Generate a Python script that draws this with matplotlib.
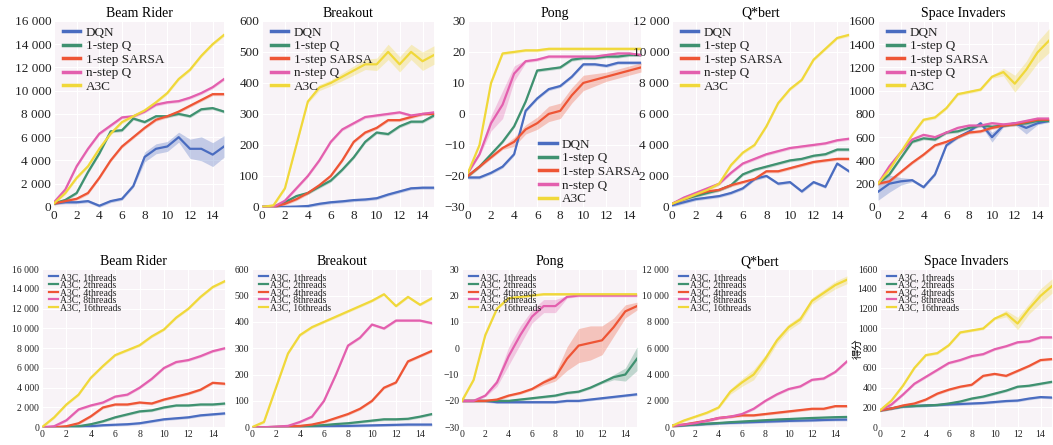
import numpy as np
import matplotlib.pyplot as plt
from matplotlib.ticker import FuncFormatter

plt.rcParams['font.family'] = ['Liberation Serif', 'Noto Sans CJK SC', 'DejaVu Sans']

steps = np.arange(16)

games = ["Beam Rider", "Breakout", "Pong", "Q*bert", "Space Invaders"]
labels_top = ["DQN", "1-step Q", "1-step SARSA", "n-step Q", "A3C"]
labels_bot = ["A3C, 1threads", "A3C, 2threads", "A3C, 4threads", "A3C, 8threads", "A3C, 16threads"]
colors = ["#4a6cc0", "#3f9170", "#ee5535", "#e35fae", "#f0d83a"]
ylims = [(0, 16000), (0, 600), (-30, 30), (0, 12000), (0, 1600)]
yticks = [np.arange(0, 16001, 2000), np.arange(0, 601, 100), np.arange(-30, 31, 10),
          np.arange(0, 12001, 2000), np.arange(0, 1601, 200)]

# top row: DQN, 1-step Q, 1-step SARSA, n-step Q, A3C
beam_top = [
    [300, 400, 400, 500, 100, 500, 700, 1800, 4300, 5000, 5200, 6000, 5000, 5000, 4500, 5200],
    [300, 600, 1200, 3000, 4600, 6500, 6600, 7600, 7300, 7800, 7800, 8000, 7800, 8400, 8500, 8200],
    [300, 500, 700, 1200, 2500, 4000, 5200, 6000, 6800, 7500, 7800, 8200, 8700, 9200, 9700, 9700],
    [400, 1500, 3500, 5000, 6300, 7000, 7700, 7800, 8200, 8800, 9000, 9100, 9400, 9800, 10300, 11000],
    [300, 1200, 2500, 3500, 5000, 6300, 7300, 7800, 8300, 9000, 9800, 11000, 11800, 13000, 14000, 14800],
]
breakout_top = [
    [0, 0, 0, 1, 3, 10, 15, 18, 22, 24, 28, 40, 50, 60, 62, 62],
    [0, 0, 15, 35, 45, 65, 85, 120, 160, 210, 240, 235, 260, 275, 275, 295],
    [0, 0, 10, 25, 45, 70, 100, 150, 210, 240, 255, 280, 280, 290, 300, 300],
    [0, 0, 20, 60, 100, 150, 210, 250, 270, 290, 295, 300, 305, 295, 300, 305],
    [0, 5, 60, 200, 340, 385, 400, 420, 440, 460, 460, 500, 460, 500, 470, 490],
]
pong_top = [
    [-20.5, -20.5, -19, -17, -13, 1, 5, 8, 9, 12, 16, 16, 15.5, 16.5, 16.5, 16.5],
    [-20, -17, -13, -9, -4, 4, 14, 14.5, 15, 17.5, 18, 18, 18.5, 18.5, 19, 19],
    [-20, -17, -14, -11, -9, -5, -3, 0, 1, 6, 10, 11, 12, 13, 14, 15],
    [-19, -13, -3, 3, 13, 17, 17.5, 18.5, 18.5, 18.5, 18.5, 18.5, 19, 19.5, 19.5, 19],
    [-19, -10, 10, 19.5, 20, 20.5, 20.5, 21, 21, 21, 21, 21, 21, 21, 21, 21],
]
qbert_top = [
    [100, 300, 500, 600, 700, 900, 1200, 1800, 2000, 1500, 1600, 1000, 1600, 1300, 2800, 2300],
    [200, 500, 700, 900, 1100, 1400, 2100, 2400, 2600, 2800, 3000, 3100, 3300, 3400, 3700, 3700],
    [200, 500, 800, 1000, 1100, 1400, 1600, 1800, 2300, 2300, 2500, 2700, 2900, 3000, 3100, 3100],
    [200, 600, 900, 1200, 1500, 2200, 2800, 3100, 3400, 3600, 3800, 3900, 4000, 4100, 4300, 4400],
    [200, 500, 800, 1100, 1500, 2700, 3500, 4000, 5200, 6700, 7600, 8200, 9500, 10200, 10900, 11100],
]
space_top = [
    [130, 200, 220, 230, 170, 280, 530, 600, 650, 720, 600, 700, 720, 680, 720, 740],
    [200, 280, 420, 560, 590, 580, 640, 650, 680, 700, 690, 700, 710, 720, 740, 740],
    [200, 220, 300, 380, 450, 530, 560, 600, 640, 650, 680, 700, 710, 730, 750, 750],
    [200, 350, 470, 580, 620, 600, 640, 680, 700, 700, 720, 710, 720, 740, 760, 760],
    [200, 320, 470, 620, 750, 770, 850, 970, 990, 1010, 1120, 1160, 1060, 1180, 1330, 1430],
]

# bottom row: A3C with 1, 2, 4, 8, 16 threads
beam_bot = [
    [0, 0, 0, 50, 100, 200, 250, 300, 400, 600, 800, 900, 1000, 1200, 1300, 1400],
    [0, 0, 0, 100, 300, 600, 1000, 1300, 1600, 1700, 2000, 2200, 2200, 2300, 2300, 2400],
    [0, 0, 100, 400, 1100, 2000, 2300, 2300, 2500, 2400, 2800, 3100, 3400, 3800, 4500, 4400],
    [0, 100, 700, 1800, 2200, 2500, 3100, 3300, 4000, 4900, 6000, 6600, 6800, 7200, 7700, 8000],
    [0, 1000, 2300, 3300, 5000, 6200, 7300, 7800, 8300, 9200, 9900, 11100, 12000, 13200, 14200, 14800],
]
breakout_bot = [
    [0, 0, 0, 0, 1, 2, 3, 4, 5, 6, 7, 8, 9, 10, 10, 10],
    [0, 0, 1, 2, 3, 5, 8, 12, 15, 20, 25, 30, 30, 32, 40, 50],
    [0, 0, 1, 2, 5, 10, 20, 35, 50, 70, 100, 150, 170, 250, 270, 290],
    [0, 0, 2, 5, 20, 40, 100, 200, 310, 340, 390, 375, 405, 405, 405, 395],
    [0, 20, 150, 280, 350, 380, 400, 420, 440, 460, 480, 505, 460, 495, 465, 490],
]
pong_bot = [
    [-20, -20, -20, -20.5, -20.5, -20.5, -20.5, -20.5, -20.5, -20, -20, -19.5, -19, -18.5, -18, -17.5],
    [-20, -20, -20, -20, -20, -19.5, -19, -18.5, -18, -17, -16.5, -15, -13, -11, -10, -4],
    [-20, -20, -20, -19.5, -18, -17, -15.5, -13, -11, -4, 1, 2, 3, 8, 14, 16],
    [-20, -20, -18, -13, -3, 5, 12, 16, 16, 19.5, 20, 20, 20, 20, 20, 20],
    [-20, -12, 5, 15, 19, 19.5, 20, 20.5, 20.5, 20.5, 20.5, 20.5, 20.5, 20.5, 20.5, 20.5],
]
qbert_bot = [
    [100, 150, 200, 250, 300, 330, 360, 390, 420, 450, 480, 500, 520, 550, 570, 580],
    [100, 150, 200, 260, 320, 380, 430, 480, 530, 580, 620, 660, 700, 730, 760, 780],
    [100, 200, 350, 500, 700, 800, 900, 900, 1000, 1100, 1200, 1300, 1400, 1400, 1600, 1600],
    [100, 200, 300, 500, 700, 800, 1000, 1400, 2000, 2500, 2900, 3100, 3600, 3700, 4200, 5000],
    [100, 500, 800, 1100, 1500, 2700, 3400, 4000, 5200, 6600, 7600, 8200, 9600, 10200, 10800, 11200],
]
space_bot = [
    [170, 190, 210, 215, 220, 225, 230, 235, 240, 245, 255, 265, 270, 290, 305, 300],
    [170, 190, 210, 215, 220, 225, 240, 260, 290, 310, 340, 370, 410, 420, 440, 460],
    [170, 190, 220, 240, 280, 340, 380, 410, 430, 520, 540, 520, 570, 620, 680, 690],
    [170, 230, 330, 440, 510, 580, 650, 680, 720, 740, 790, 820, 860, 870, 910, 910],
    [170, 270, 420, 600, 730, 750, 830, 960, 980, 1000, 1100, 1150, 1050, 1200, 1330, 1430],
]

top_data = [beam_top, breakout_top, pong_top, qbert_top, space_top]
bot_data = [beam_bot, breakout_bot, pong_bot, qbert_bot, space_bot]

# wider shaded bands (half width)
bands = {
    (0, 0, 0): [0, 0, 0, 0, 0, 0, 0, 0, 300, 300, 300, 300, 700, 900, 900, 800],
    (0, 1, 4): [0, 0, 0, 0, 0, 5, 5, 8, 10, 12, 15, 20, 20, 20, 25, 25],
    (0, 4, 4): [0, 0, 0, 0, 0, 0, 0, 0, 0, 0, 0, 20, 60, 60, 80, 90],
    (0, 4, 0): [60, 60, 20, 0, 0, 0, 0, 0, 0, 0, 30, 0, 0, 40, 0, 0],
    (0, 2, 2): [0, 0, 0, 0, 1, 1, 1.5, 2, 2, 2, 2, 1.5, 1, 1, 1, 1],
    (0, 2, 3): [0, 0, 2, 4, 2, 0, 0, 0, 0, 0, 0, 0, 0, 0, 0, 0],
    (1, 2, 2): [0, 0, 0, 0, 0, 0, 0, 0.5, 1, 4, 6, 6, 5, 3, 2, 1],
    (1, 2, 3): [0, 0, 0, 1, 3, 3, 2, 2, 2, 0, 0, 0, 0, 0, 0, 0],
    (1, 2, 1): [0, 0, 0, 0, 0, 0, 0, 0, 0, 0, 0, 0, 0, 0.5, 2, 4],
    (1, 4, 4): [0, 0, 0, 0, 0, 0, 0, 0, 0, 0, 0, 20, 50, 40, 60, 60],
    (1, 3, 4): [0, 0, 0, 0, 0, 100, 200, 300, 200, 150, 150, 150, 150, 150, 200, 200],
}
layout = {
    0: {"bottom": 0.535, "height": 0.418, "left": [54, 262, 468, 672, 878],
        "right": [224, 434, 641, 849, 1049]},
    1: {"bottom": 0.040, "height": 0.355, "left": [42, 252, 462, 672, 880],
        "right": [225, 432, 637, 847, 1052]},
}


def thousands(v, p):
    v = int(round(v))
    return f"{v:,}".replace(",", " ")


fig = plt.figure(figsize=(10.53, 4.45), dpi=100)
W = 1053.0

for row in range(2):
    lay = layout[row]
    rows_data = top_data if row == 0 else bot_data
    labels = labels_top if row == 0 else labels_bot
    for col in range(5):
        left = lay["left"][col] / W
        w = (lay["right"][col] - lay["left"][col]) / W
        ax = fig.add_axes([left, lay["bottom"], w, lay["height"]])
        ax.set_facecolor("#f8f3f7")
        ax.grid(True, color="white", lw=0.8)
        ax.set_axisbelow(True)
        for s in ax.spines.values():
            s.set_visible(False)
        ymin, ymax = ylims[col]
        default_band = (ymax - ymin) * 0.008
        for k in range(5):
            y = np.asarray(rows_data[col][k], dtype=float)
            b = np.asarray(bands.get((row, col, k), [0.0] * 16), dtype=float) + default_band
            ax.fill_between(steps, y - b, y + b, color=colors[k], alpha=0.3, lw=0)
            ax.plot(steps, y, color=colors[k], lw=1.6, label=labels[k])
        ax.set_xlim(0, 15)
        ax.set_ylim(ymin, ymax)
        ax.set_xticks(np.arange(0, 15, 2))
        ax.set_yticks(yticks[col])
        if ymax >= 10000:
            ax.yaxis.set_major_formatter(FuncFormatter(thousands))
        fs = 9.5 if row == 0 else 7
        ax.tick_params(length=0, pad=2, labelsize=fs, colors="#222222")
        ax.set_title(games[col], fontsize=10, pad=3)
        if row == 0:
            if col == 2:
                leg = ax.legend(loc="lower right", bbox_to_anchor=(1.05, -0.04), fontsize=9.5,
                                frameon=False, handlelength=1.3, handletextpad=0.4,
                                labelspacing=0.1, borderpad=0.2)
            else:
                leg = ax.legend(loc="upper left", bbox_to_anchor=(0.0, 1.02), fontsize=9.5,
                                frameon=False, handlelength=1.3, handletextpad=0.4,
                                labelspacing=0.1, borderpad=0.2)
            for ln in leg.get_lines():
                ln.set_linewidth(2.5)
        else:
            leg = ax.legend(loc="upper left", bbox_to_anchor=(0.0, 1.02), fontsize=7,
                            frameon=False, handlelength=0.9, handletextpad=0.3,
                            labelspacing=-0.15, borderpad=0.2)
        for t in leg.get_texts():
            t.set_color("#222222")
        if row == 1 and col == 4:
            ax.text(-0.13, 0.50, "得分", transform=ax.transAxes, rotation=90,
                    fontsize=7.5, family=["Noto Sans CJK SC"], va="center", ha="center")

fig.savefig("out.png", dpi=100)
